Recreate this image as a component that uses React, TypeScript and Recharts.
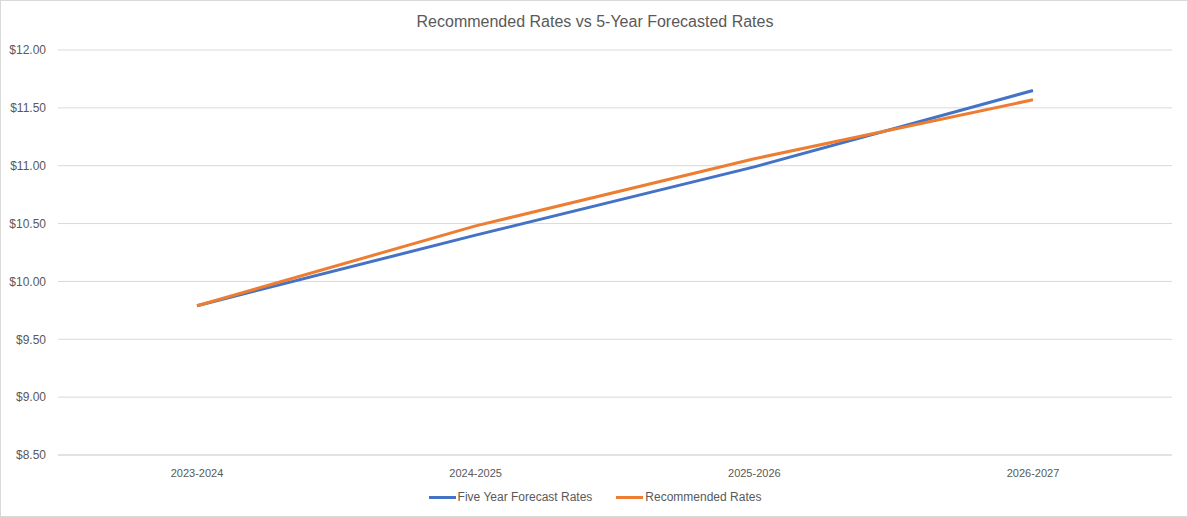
import React from 'react';
import { LineChart, Line, XAxis, YAxis, CartesianGrid } from 'recharts';

const periods = ['2023-2024', '2024-2025', '2025-2026', '2026-2027'];
const forecastRates = [9.79, 10.4, 10.99, 11.65];
const recommendedRates = [9.79, 10.48, 11.06, 11.57];
const yTicks = [8.5, 9, 9.5, 10, 10.5, 11, 11.5, 12];

const data = periods.map((p, i) => ({
  period: p,
  forecast: forecastRates[i],
  recommended: recommendedRates[i]
}));

const FONT = '"Liberation Sans", Arial, sans-serif';
const TEXT = '#595959';

function ChartLegend() {
  const items = [
    { label: 'Five Year Forecast Rates', color: '#4472C4' },
    { label: 'Recommended Rates', color: '#ED7D31' }
  ];
  return (
    <div
      style={{
        position: 'absolute',
        top: 489,
        left: 0,
        width: 1188,
        display: 'flex',
        justifyContent: 'center',
        gap: 24,
        fontFamily: FONT,
        fontSize: 12,
        color: TEXT
      }}
    >
      {items.map((it) => (
        <div key={it.label} style={{ display: 'flex', alignItems: 'center' }}>
          <span style={{ width: 27, height: 3, background: it.color, marginRight: 2 }} />
          <span>{it.label}</span>
        </div>
      ))}
    </div>
  );
}

export default function App() {
  return (
    <div
      style={{
        position: 'absolute',
        left: 0,
        top: 0,
        width: 1188,
        height: 517,
        boxSizing: 'border-box',
        border: '1px solid #d9d9d9',
        background: '#fff'
      }}
    >
      <div
        style={{
          position: 'absolute',
          top: 12,
          left: 0,
          width: 1188,
          textAlign: 'center',
          fontFamily: FONT,
          fontSize: 16,
          color: TEXT
        }}
      >
        Recommended Rates vs 5-Year Forecasted Rates
      </div>
      <div style={{ position: 'absolute', left: -1, top: -1 }}>
        <LineChart
          width={1188}
          height={517}
          data={data}
          margin={{ top: 50, right: 16, bottom: 32, left: 0 }}
        >
          <CartesianGrid vertical={false} stroke="#d9d9d9" />
          <XAxis
            dataKey="period"
            height={30}
            padding={{ left: 139, right: 139 }}
            tickLine={false}
            axisLine={{ stroke: '#d9d9d9' }}
            tick={{ fill: TEXT, fontSize: 11, fontFamily: FONT }}
            tickMargin={8}
          />
          <YAxis
            width={58}
            domain={[8.5, 12]}
            ticks={yTicks}
            tickLine={false}
            axisLine={false}
            tickMargin={6}
            tickFormatter={(v: number) => `$${v.toFixed(2)}`}
            tick={{ fill: TEXT, fontSize: 12, fontFamily: FONT }}
          />
          <Line
            type="linear"
            dataKey="forecast"
            stroke="#4472C4"
            strokeWidth={3}
            dot={false}
            isAnimationActive={false}
          />
          <Line
            type="linear"
            dataKey="recommended"
            stroke="#ED7D31"
            strokeWidth={3}
            dot={false}
            isAnimationActive={false}
          />
        </LineChart>
      </div>
      <ChartLegend />
    </div>
  );
}
